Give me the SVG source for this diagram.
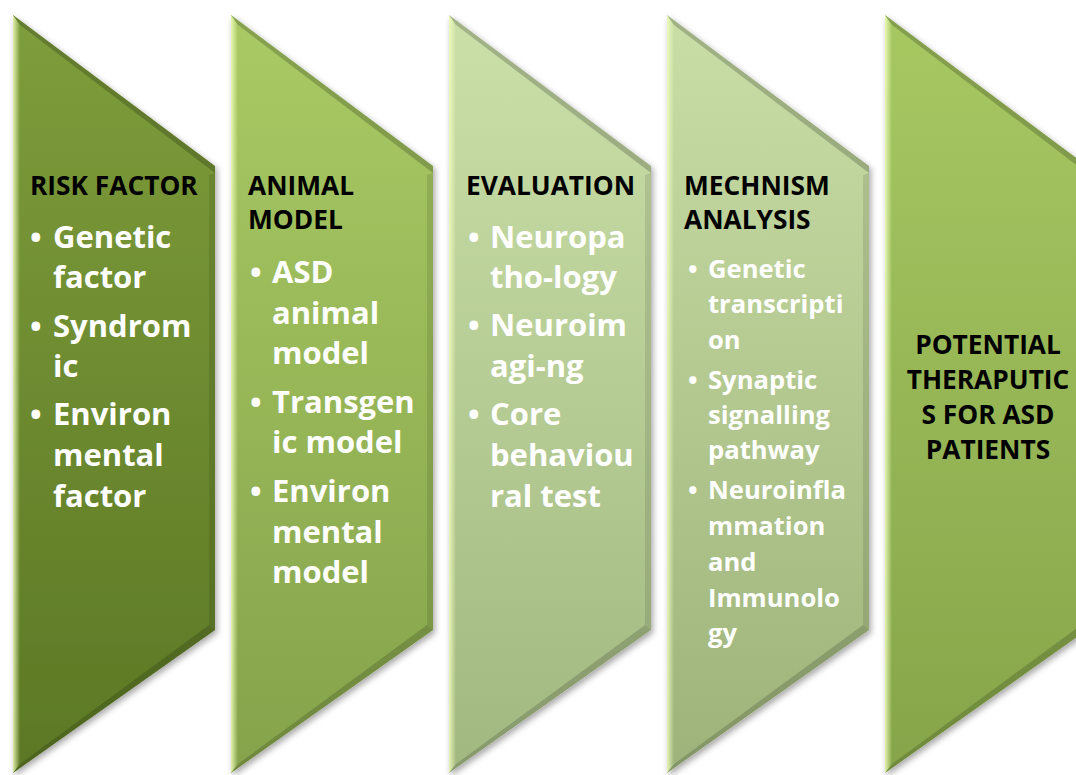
<svg xmlns="http://www.w3.org/2000/svg" width="1076" height="775" viewBox="0 0 1076 775">
  <style>
    .head { font-family: "Open Sans", "Liberation Sans", sans-serif; font-weight: 700; font-size: 26.3px; fill: #000; }
    .item { font-family: "Open Sans", "Liberation Sans", sans-serif; font-weight: 700; font-size: 31px; fill: #fff; }
    .item-s { font-family: "Open Sans", "Liberation Sans", sans-serif; font-weight: 700; font-size: 25.6px; fill: #fff; }
    .centre { text-anchor: middle; }
  </style>
  <defs>
    <filter id="shadow" x="-10%" y="-5%" width="125%" height="115%">
      <feDropShadow dx="2" dy="3" stdDeviation="3" flood-color="#000" flood-opacity="0.35"/>
    </filter>
    <linearGradient id="g1" x1="0" y1="0" x2="0" y2="1">
      <stop offset="0" stop-color="#7e9d3b"/>
      <stop offset="1" stop-color="#5c7825"/>
    </linearGradient>
    <linearGradient id="g2" x1="0" y1="0" x2="0" y2="1">
      <stop offset="0" stop-color="#a9ca64"/>
      <stop offset="1" stop-color="#85a34b"/>
    </linearGradient>
    <linearGradient id="g3" x1="0" y1="0" x2="0" y2="1">
      <stop offset="0" stop-color="#cbe0a9"/>
      <stop offset="1" stop-color="#a2b881"/>
    </linearGradient>
    <linearGradient id="g4" x1="0" y1="0" x2="0" y2="1">
      <stop offset="0" stop-color="#c9dea6"/>
      <stop offset="1" stop-color="#9db37a"/>
    </linearGradient>
    <linearGradient id="g5" x1="0" y1="0" x2="0" y2="1">
      <stop offset="0" stop-color="#a7c862"/>
      <stop offset="1" stop-color="#86a54a"/>
    </linearGradient>
    <linearGradient id="hl" x1="0" y1="0" x2="1" y2="0">
      <stop offset="0" stop-color="#f4ffc0" stop-opacity="0.85"/>
      <stop offset="1" stop-color="#f4ffc0" stop-opacity="0"/>
    </linearGradient>
    <!-- chevron outline, drawn from its top-left point -->
    <path id="chev" d="M0,0 L202,151 L202,615 L0,758 Z"/>
    <!-- bevel facets laid over each chevron -->
    <g id="bevel">
      <polygon points="0,0 7,10 7,749 0,758" fill="url(#hl)"/>
      <polygon points="0,0 202,151 202,158 7,10" fill="#000" fill-opacity="0.2"/>
      <polygon points="202,158 202,615 196,610 196,160" fill="#000" fill-opacity="0.1"/>
      <polygon points="0,758 202,615 196,610 7,749" fill="#000" fill-opacity="0.16"/>
    </g>
  </defs>

  <g id="risk-factor">
    <use href="#chev" x="13" y="15" fill="url(#g1)" filter="url(#shadow)"/>
    <use href="#bevel" x="13" y="15"/>
    <text class="head" x="30" y="195">RISK FACTOR</text>
    <text class="item" x="30" y="248">•</text>
    <text class="item" x="53" y="248">Genetic</text>
    <text class="item" x="53" y="288">factor</text>
    <text class="item" x="30" y="337">•</text>
    <text class="item" x="53" y="337">Syndrom</text>
    <text class="item" x="53" y="377">ic</text>
    <text class="item" x="30" y="425">•</text>
    <text class="item" x="53" y="425">Environ</text>
    <text class="item" x="53" y="466">mental</text>
    <text class="item" x="53" y="507">factor</text>
  </g>

  <g id="animal-model">
    <use href="#chev" x="231" y="15" fill="url(#g2)" filter="url(#shadow)"/>
    <use href="#bevel" x="231" y="15"/>
    <text class="head" x="248" y="195">ANIMAL</text>
    <text class="head" x="248" y="229">MODEL</text>
    <text class="item" x="250" y="283">•</text>
    <text class="item" x="272" y="283">ASD</text>
    <text class="item" x="272" y="324">animal</text>
    <text class="item" x="272" y="364">model</text>
    <text class="item" x="250" y="413">•</text>
    <text class="item" x="272" y="413">Transgen</text>
    <text class="item" x="272" y="453">ic model</text>
    <text class="item" x="250" y="502">•</text>
    <text class="item" x="272" y="502">Environ</text>
    <text class="item" x="272" y="543">mental</text>
    <text class="item" x="272" y="583">model</text>
  </g>

  <g id="evaluation">
    <use href="#chev" x="449" y="15" fill="url(#g3)" filter="url(#shadow)"/>
    <use href="#bevel" x="449" y="15"/>
    <text class="head" x="466" y="195">EVALUATION</text>
    <text class="item" x="468" y="248">•</text>
    <text class="item" x="490" y="248">Neuropa</text>
    <text class="item" x="490" y="288">tho-logy</text>
    <text class="item" x="468" y="336">•</text>
    <text class="item" x="490" y="336">Neuroim</text>
    <text class="item" x="490" y="377">agi-ng</text>
    <text class="item" x="468" y="425">•</text>
    <text class="item" x="490" y="425">Core</text>
    <text class="item" x="490" y="466">behaviou</text>
    <text class="item" x="490" y="507">ral test</text>
  </g>

  <g id="mechanism-analysis">
    <use href="#chev" x="667" y="15" fill="url(#g4)" filter="url(#shadow)"/>
    <use href="#bevel" x="667" y="15"/>
    <text class="head" x="684" y="195">MECHNISM</text>
    <text class="head" x="684" y="229">ANALYSIS</text>
    <text class="item-s" x="688" y="278">•</text>
    <text class="item-s" x="708" y="278">Genetic</text>
    <text class="item-s" x="708" y="313">transcripti</text>
    <text class="item-s" x="708" y="349">on</text>
    <text class="item-s" x="688" y="389">•</text>
    <text class="item-s" x="708" y="389">Synaptic</text>
    <text class="item-s" x="708" y="424">signalling</text>
    <text class="item-s" x="708" y="459">pathway</text>
    <text class="item-s" x="688" y="499">•</text>
    <text class="item-s" x="708" y="499">Neuroinfla</text>
    <text class="item-s" x="708" y="535">mmation</text>
    <text class="item-s" x="708" y="571">and</text>
    <text class="item-s" x="708" y="607">Immunolo</text>
    <text class="item-s" x="708" y="642">gy</text>
  </g>

  <g id="potential-therapeutics">
    <use href="#chev" x="885" y="15" fill="url(#g5)" filter="url(#shadow)"/>
    <use href="#bevel" x="885" y="15"/>
    <text class="head centre" x="988" y="354">POTENTIAL</text>
    <text class="head centre" x="988" y="389">THERAPUTIC</text>
    <text class="head centre" x="988" y="424">S FOR ASD</text>
    <text class="head centre" x="988" y="459">PATIENTS</text>
  </g>

  <g id="connectors"></g>
</svg>
